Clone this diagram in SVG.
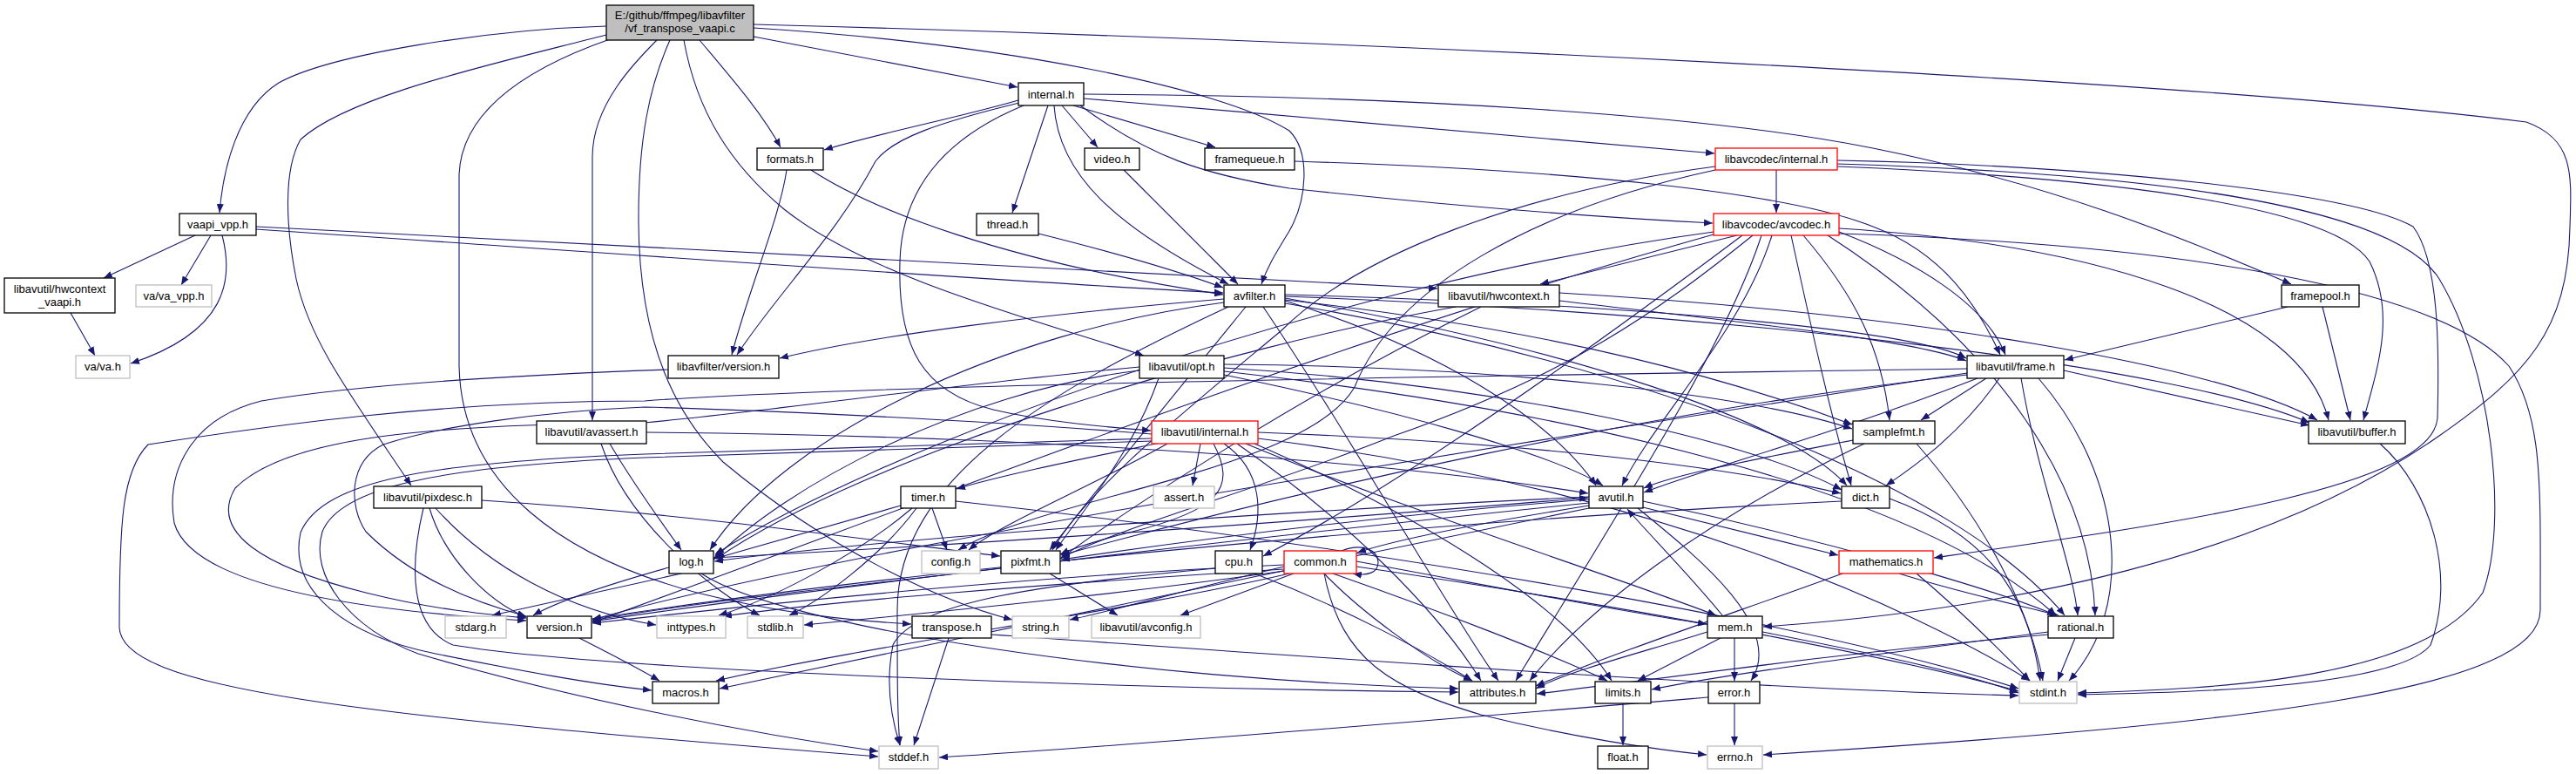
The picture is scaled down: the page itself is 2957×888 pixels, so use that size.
<svg xmlns="http://www.w3.org/2000/svg" width="2957" height="888" viewBox="0 0 2957 888">
<style>
.e{fill:none;stroke:#191970;stroke-width:1.1;marker-end:url(#a)}
.b rect{fill:#fff;stroke:#000;stroke-width:1.3}
.g rect{fill:#fff;stroke:#bfbfbf;stroke-width:1.3}
.r rect{fill:#fff;stroke:#ff0000;stroke-width:1.3}
.m rect{fill:#bfbfbf;stroke:#000;stroke-width:1.3}
text{font-family:"Liberation Sans",Arial,sans-serif;font-size:13px;text-anchor:middle;fill:#000}
</style>
<defs>
<marker id="a" markerWidth="10" markerHeight="8" refX="10" refY="4" orient="auto" markerUnits="userSpaceOnUse">
<path d="M0,0 L10,4 L0,8 z" fill="#191970"/>
</marker>
</defs>
<rect width="2957" height="888" fill="#fff"/>
<g id="edges">
<path class="e" d="M696,30 C560,34 380,62 320,95 C272,125 256,195 252,244"/>
<path class="e" d="M696,40 C560,75 400,110 345,160 C325,195 328,260 340,320 C355,390 400,450 472,557"/>
<path class="e" d="M700,45 C600,80 530,130 527,200 L527,420 C530,560 650,640 800,680 C900,705 980,712 1046,716"/>
<path class="e" d="M754,46 C730,70 680,120 680,180 L680,482"/>
<path class="e" d="M769,46 C745,100 733,160 733,250 C733,400 780,480 830,530 C950,630 1080,690 1162,711"/>
<path class="e" d="M785,46 C800,130 840,190 900,240 C1000,320 1200,370 1313,408"/>
<path class="e" d="M803,46 C840,90 875,130 896,169"/>
<path class="e" d="M865,42 L1168,100"/>
<path class="e" d="M865,32 C1150,50 1400,100 1480,150 C1505,175 1500,230 1480,265 C1465,290 1455,305 1448,326"/>
<path class="e" d="M865,28 C1500,45 2500,90 2900,140 C2955,160 2952,200 2950,260 C2948,380 2900,430 2800,500 C2600,640 2300,700 2024,719"/>
<path class="e" d="M224,270 L119,319"/>
<path class="e" d="M242,270 L208,327"/>
<path class="e" d="M255,270 C268,320 262,380 150,417"/>
<path class="e" d="M294,260 L1650,331"/>
<path class="e" d="M294,263 C700,290 1100,320 1404,336"/>
<path class="e" d="M81,359 L109,408"/>
<path class="e" d="M1169,115 C1100,135 1000,155 946,172"/>
<path class="e" d="M1170,118 C1080,140 1025,158 1005,185 C960,270 890,340 846,407"/>
<path class="e" d="M1175,121 C1080,160 1035,220 1033,300 C1030,400 1060,450 1140,470 C1200,484 1270,490 1321,494"/>
<path class="e" d="M1203,121 L1162,244"/>
<path class="e" d="M1210,121 C1215,200 1280,260 1410,326"/>
<path class="e" d="M1219,121 L1260,169"/>
<path class="e" d="M1232,121 L1395,169"/>
<path class="e" d="M1240,121 C1320,180 1380,200 1480,216 C1700,240 1850,250 1966,256"/>
<path class="e" d="M1244,113 C1500,135 1800,160 1968,176"/>
<path class="e" d="M1244,108 C1600,110 1950,130 2150,170 C2350,210 2500,270 2630,326"/>
<path class="e" d="M903,195 C895,250 860,330 840,407"/>
<path class="e" d="M931,195 C1000,240 1150,300 1404,338"/>
<path class="e" d="M1290,195 L1421,326"/>
<path class="e" d="M1192,268 C1280,290 1350,310 1404,330"/>
<path class="e" d="M1486,185 C1800,195 2050,220 2150,260 C2230,290 2270,350 2296,407"/>
<path class="e" d="M2039,195 L2039,244"/>
<path class="e" d="M1969,191 C1750,220 1560,290 1470,380 C1350,480 1250,560 1208,631"/>
<path class="e" d="M1969,195 C1760,240 1600,330 1555,444 C1500,540 1200,570 1100,631"/>
<path class="e" d="M2109,184 C2400,190 2700,220 2770,260 C2800,300 2800,400 2798,480 C2790,560 2500,600 2220,640"/>
<path class="e" d="M2109,188 C2500,200 2750,240 2800,320 C2860,420 2880,600 2850,680 C2780,780 2550,790 2385,795"/>
<path class="e" d="M2109,191 C2450,205 2680,240 2720,300 C2750,360 2730,420 2713,482"/>
<path class="e" d="M1967,266 C1500,330 1000,520 821,636"/>
<path class="e" d="M1994,270 L1768,326"/>
<path class="e" d="M2012,270 C1900,360 1800,430 1600,500 C1450,560 1300,600 1218,640"/>
<path class="e" d="M2022,270 C1980,400 1850,600 1740,781"/>
<path class="e" d="M2034,270 C2000,380 1900,480 1862,557"/>
<path class="e" d="M2070,270 C2130,340 2160,400 2169,482"/>
<path class="e" d="M2056,270 C2080,380 2100,470 2125,557"/>
<path class="e" d="M2098,270 C2300,400 2400,560 2405,706"/>
<path class="e" d="M2111,262 C2400,280 2640,350 2673,482"/>
<path class="e" d="M2111,266 C2200,300 2280,350 2302,407"/>
<path class="e" d="M2111,268 C2500,280 2800,330 2880,420 C2920,480 2916,560 2916,700 C2916,790 2600,830 2024,866"/>
<path class="e" d="M2000,270 C1800,420 1600,560 1450,638"/>
<path class="e" d="M1967,269 C1500,400 1000,600 680,714"/>
<path class="e" d="M1405,343 C1200,360 1000,385 895,411"/>
<path class="e" d="M1405,347 C1150,380 900,500 815,631"/>
<path class="e" d="M1410,352 C1200,450 1030,550 1030,700 C1030,780 1030,820 1033,855"/>
<path class="e" d="M1450,352 C1550,500 1650,680 1720,781"/>
<path class="e" d="M1475,345 C1650,400 1780,480 1832,557"/>
<path class="e" d="M1475,340 C2000,360 2500,420 2651,485"/>
<path class="e" d="M1475,342 C1800,400 2050,480 2120,557"/>
<path class="e" d="M1475,338 C1900,350 2200,380 2257,411"/>
<path class="e" d="M1475,344 C1800,380 2000,440 2126,487"/>
<path class="e" d="M1430,352 C1350,450 1260,560 1205,631"/>
<path class="e" d="M1475,348 C1900,420 2250,560 2370,706"/>
<path class="e" d="M1790,336 C2200,360 2550,420 2660,482"/>
<path class="e" d="M1790,345 C2000,370 2200,390 2257,414"/>
<path class="e" d="M1671,352 C1400,400 1000,520 822,641"/>
<path class="e" d="M1700,352 C1500,450 1300,580 1217,641"/>
<path class="e" d="M2626,352 L2370,413"/>
<path class="e" d="M2666,352 L2698,482"/>
<path class="e" d="M767,424 C600,430 420,440 300,460 C220,480 190,540 200,600 C220,670 400,700 604,712"/>
<path class="e" d="M1308,425 C1100,450 900,560 819,642"/>
<path class="e" d="M1330,434 C1300,520 1240,590 1212,631"/>
<path class="e" d="M1405,430 C1600,470 1780,520 1840,557"/>
<path class="e" d="M1405,422 C1700,440 2000,500 2114,562"/>
<path class="e" d="M1405,418 C1700,420 2000,450 2126,492"/>
<path class="e" d="M1405,426 C1800,470 2200,560 2360,706"/>
<path class="e" d="M1308,421 C1100,440 900,470 740,485 C500,487 330,500 270,560 C240,610 300,650 420,680 C500,700 560,705 604,709"/>
<path class="e" d="M2258,423 C1800,430 1000,440 740,460 C500,460 300,490 170,510 C140,540 137,600 137,720 C140,790 400,820 1008,868"/>
<path class="e" d="M2369,425 L2651,488"/>
<path class="e" d="M2280,434 L2205,482"/>
<path class="e" d="M2295,434 C2250,500 2190,540 2165,557"/>
<path class="e" d="M2270,434 C2100,500 1950,540 1887,565"/>
<path class="e" d="M2320,434 C2340,550 2380,650 2385,706"/>
<path class="e" d="M2340,434 C2440,550 2450,700 2375,781"/>
<path class="e" d="M2258,430 C1900,470 1500,560 1218,637"/>
<path class="e" d="M2258,428 C1800,500 1000,620 680,711"/>
<path class="e" d="M700,509 C730,560 760,600 782,631"/>
<path class="e" d="M690,509 C720,600 820,680 872,706"/>
<path class="e" d="M742,496 C1200,500 1600,530 1823,566"/>
<path class="e" d="M1378,509 L1369,557"/>
<path class="e" d="M1332,508 C1250,525 1150,545 1098,561"/>
<path class="e" d="M1340,509 C1250,560 1150,600 1112,631"/>
<path class="e" d="M1393,509 C1420,560 1400,585 1300,610 C1260,620 1230,630 1217,636"/>
<path class="e" d="M1405,509 C1450,540 1450,590 1435,631"/>
<path class="e" d="M1444,496 C1800,510 2000,540 2113,566"/>
<path class="e" d="M1430,509 C1600,580 1850,660 1970,706"/>
<path class="e" d="M1420,509 C1550,600 1650,700 1700,781"/>
<path class="e" d="M1440,509 C1650,600 1800,700 1850,781"/>
<path class="e" d="M1444,503 C1900,560 2200,700 2330,781"/>
<path class="e" d="M1322,503 C1100,510 900,515 740,521 C500,530 370,550 345,611 C330,680 400,730 500,750 C600,770 680,785 748,792"/>
<path class="e" d="M1322,506 C1100,515 900,520 740,525 C500,535 390,560 370,610 C355,660 400,720 480,750 C650,800 850,840 1008,862"/>
<path class="e" d="M1322,498 C1100,480 850,470 740,467 C620,472 500,490 440,510 C400,530 400,580 420,610 C470,660 540,690 604,707"/>
<path class="e" d="M553,574 C800,590 1000,620 1148,638"/>
<path class="e" d="M493,583 C510,640 560,690 604,708"/>
<path class="e" d="M500,583 C560,650 650,700 753,717"/>
<path class="e" d="M486,583 C470,650 470,720 520,740 C700,770 1300,790 1674,794"/>
<path class="e" d="M1034,580 L820,641"/>
<path class="e" d="M1047,583 C980,640 880,690 825,706"/>
<path class="e" d="M1052,583 C1010,640 940,690 906,706"/>
<path class="e" d="M1070,583 L1087,631"/>
<path class="e" d="M1097,575 C1600,630 2100,720 2317,790"/>
<path class="e" d="M782,658 L565,706"/>
<path class="e" d="M768,651 C700,670 640,690 612,706"/>
<path class="e" d="M805,658 C900,720 1300,780 1674,790"/>
<path class="e" d="M819,640 C1200,620 1600,590 1823,571"/>
<path class="e" d="M1824,580 C1700,600 1600,620 1558,634"/>
<path class="e" d="M1880,583 C1950,640 2050,720 2010,781"/>
<path class="e" d="M1886,575 C2100,620 2300,680 2360,706"/>
<path class="e" d="M1886,582 L2110,637"/>
<path class="e" d="M1824,570 C1400,590 1000,620 820,644"/>
<path class="e" d="M1824,573 C1600,590 1400,615 1218,642"/>
<path class="e" d="M1824,577 C1400,620 900,680 680,713"/>
<path class="e" d="M1824,583 C1500,650 1100,730 826,790"/>
<path class="e" d="M1205,658 L1283,706"/>
<path class="e" d="M1149,652 C1000,670 800,690 680,712"/>
<path class="e" d="M1395,652 C1200,670 1050,690 1025,740 C1015,790 1025,830 1033,855"/>
<path class="e" d="M1440,658 C1550,700 1640,750 1690,781"/>
<path class="e" d="M1485,658 L1355,706"/>
<path class="e" d="M1474,650 C1350,680 1280,700 1228,711"/>
<path class="e" d="M1474,655 C1300,680 1100,700 923,717"/>
<path class="e" d="M1474,653 C1200,670 950,690 830,707"/>
<path class="e" d="M1474,648 C1200,660 900,690 680,715"/>
<path class="e" d="M1480,658 C1300,700 1000,740 822,781"/>
<path class="e" d="M1520,658 C1560,700 1640,760 1690,781"/>
<path class="e" d="M1530,658 C1650,700 1780,750 1845,781"/>
<path class="e" d="M1520,658 C1540,760 1600,790 1700,820 C1800,845 1900,860 1959,866"/>
<path class="e" d="M1557,650 C1900,700 2200,760 2317,793"/>
<path class="e" d="M1557,644 C1700,670 1850,700 1959,716"/>
<path class="e" d="M1540,632 C1565,622 1582,632 1582,645 C1582,657 1570,661 1553,658"/>
<path class="e" d="M2115,658 C2000,700 1850,750 1763,787"/>
<path class="e" d="M2180,658 C2250,680 2320,695 2363,706"/>
<path class="e" d="M2200,658 C2250,700 2300,750 2330,781"/>
<path class="e" d="M2169,572 C2300,620 2330,700 2342,781"/>
<path class="e" d="M2114,575 C1600,600 1000,660 680,710"/>
<path class="e" d="M2127,505 C2000,530 1920,545 1887,560"/>
<path class="e" d="M2140,509 C1950,600 1820,700 1756,781"/>
<path class="e" d="M2200,509 C2280,600 2330,700 2345,781"/>
<path class="e" d="M1978,707 C1940,660 1890,610 1868,584"/>
<path class="e" d="M1960,725 C1880,750 1800,770 1763,790"/>
<path class="e" d="M1975,732 L1880,781"/>
<path class="e" d="M1991,732 L1991,781"/>
<path class="e" d="M2023,725 C2150,750 2250,770 2317,795"/>
<path class="e" d="M2382,732 L2362,781"/>
<path class="e" d="M2351,725 C2200,745 2000,770 1896,791"/>
<path class="e" d="M2351,728 C2100,750 1900,780 1764,796"/>
<path class="e" d="M1991,807 L1991,855"/>
<path class="e" d="M1961,800 C1600,830 1300,855 1078,869"/>
<path class="e" d="M1863,807 L1863,855"/>
<path class="e" d="M1089,732 L1049,855"/>
<path class="e" d="M1138,728 C1600,760 2000,790 2317,798"/>
<path class="e" d="M665,732 C700,750 730,765 757,781"/>
<path class="e" d="M2732,509 C2790,560 2820,660 2790,740 C2750,790 2500,795 2385,797"/>
</g>
<g id="n-main" class="m"><rect x="696" y="6" width="169" height="40"/><text x="780.5" y="21.5">E:/github/ffmpeg/libavfilter</text><text x="780.5" y="36.5">/vf_transpose_vaapi.c</text></g>
<g id="n-vaapi_vpp" class="b"><rect x="206" y="245" width="88" height="25"/><text x="250" y="262">vaapi_vpp.h</text></g>
<g id="n-hwcontext_vaapi" class="b"><rect x="5" y="319" width="127" height="40"/><text x="68.5" y="335.5">libavutil/hwcontext</text><text x="68.5" y="350.5">_vaapi.h</text></g>
<g id="n-va_vpp" class="g"><rect x="156" y="327" width="87" height="25"/><text x="199.5" y="344">va/va_vpp.h</text></g>
<g id="n-va" class="g"><rect x="87" y="408" width="62" height="26"/><text x="118" y="425">va/va.h</text></g>
<g id="n-internal" class="b"><rect x="1169" y="95" width="75" height="26"/><text x="1206.5" y="112.5">internal.h</text></g>
<g id="n-formats" class="b"><rect x="869" y="170" width="76" height="25"/><text x="907" y="187">formats.h</text></g>
<g id="n-video" class="b"><rect x="1245" y="170" width="63" height="25"/><text x="1276.5" y="187">video.h</text></g>
<g id="n-framequeue" class="b"><rect x="1383" y="170" width="103" height="25"/><text x="1434.5" y="187">framequeue.h</text></g>
<g id="n-thread" class="b"><rect x="1121" y="245" width="71" height="25"/><text x="1156.5" y="262">thread.h</text></g>
<g id="n-lavc_internal" class="r"><rect x="1969" y="170" width="140" height="25"/><text x="2039" y="187">libavcodec/internal.h</text></g>
<g id="n-avcodec" class="r"><rect x="1967" y="245" width="144" height="25"/><text x="2039" y="262">libavcodec/avcodec.h</text></g>
<g id="n-avfilter" class="b"><rect x="1405" y="327" width="70" height="25"/><text x="1440" y="344">avfilter.h</text></g>
<g id="n-hwcontext" class="b"><rect x="1651" y="327" width="139" height="25"/><text x="1720.5" y="344">libavutil/hwcontext.h</text></g>
<g id="n-framepool" class="b"><rect x="2619" y="327" width="89" height="25"/><text x="2663.5" y="344">framepool.h</text></g>
<g id="n-lavfi_version" class="b"><rect x="767" y="408" width="127" height="26"/><text x="830.5" y="425">libavfilter/version.h</text></g>
<g id="n-opt" class="b"><rect x="1308" y="408" width="97" height="26"/><text x="1356.5" y="425">libavutil/opt.h</text></g>
<g id="n-frame" class="b"><rect x="2258" y="408" width="111" height="26"/><text x="2313.5" y="425">libavutil/frame.h</text></g>
<g id="n-avassert" class="b"><rect x="616" y="483" width="126" height="26"/><text x="679" y="500">libavutil/avassert.h</text></g>
<g id="n-lavu_internal" class="r"><rect x="1322" y="483" width="122" height="26"/><text x="1383" y="500">libavutil/internal.h</text></g>
<g id="n-samplefmt" class="b"><rect x="2127" y="483" width="94" height="26"/><text x="2174" y="500">samplefmt.h</text></g>
<g id="n-buffer" class="b"><rect x="2650" y="483" width="111" height="26"/><text x="2705.5" y="500">libavutil/buffer.h</text></g>
<g id="n-pixdesc" class="b"><rect x="429" y="558" width="124" height="25"/><text x="491" y="575">libavutil/pixdesc.h</text></g>
<g id="n-timer" class="b"><rect x="1034" y="558" width="63" height="25"/><text x="1065.5" y="575">timer.h</text></g>
<g id="n-assert" class="g"><rect x="1324" y="558" width="70" height="25"/><text x="1359" y="575">assert.h</text></g>
<g id="n-avutil" class="b"><rect x="1824" y="558" width="62" height="25"/><text x="1855" y="575">avutil.h</text></g>
<g id="n-dict" class="b"><rect x="2114" y="558" width="55" height="25"/><text x="2141.5" y="575">dict.h</text></g>
<g id="n-log" class="b"><rect x="768" y="632" width="51" height="26"/><text x="793.5" y="649">log.h</text></g>
<g id="n-config" class="g"><rect x="1058" y="632" width="67" height="26"/><text x="1091.5" y="649">config.h</text></g>
<g id="n-pixfmt" class="b"><rect x="1149" y="632" width="68" height="26"/><text x="1183" y="649">pixfmt.h</text></g>
<g id="n-cpu" class="b"><rect x="1395" y="632" width="54" height="26"/><text x="1422" y="649">cpu.h</text></g>
<g id="n-common" class="r"><rect x="1474" y="632" width="83" height="26"/><text x="1515.5" y="649">common.h</text></g>
<g id="n-mathematics" class="r"><rect x="2111" y="632" width="108" height="26"/><text x="2165" y="649">mathematics.h</text></g>
<g id="n-stdarg" class="g"><rect x="511" y="707" width="70" height="25"/><text x="546" y="724">stdarg.h</text></g>
<g id="n-version" class="b"><rect x="605" y="707" width="74" height="25"/><text x="642" y="724">version.h</text></g>
<g id="n-inttypes" class="g"><rect x="754" y="707" width="79" height="25"/><text x="793.5" y="724">inttypes.h</text></g>
<g id="n-stdlib" class="g"><rect x="858" y="707" width="64" height="25"/><text x="890" y="724">stdlib.h</text></g>
<g id="n-transpose" class="b"><rect x="1047" y="707" width="91" height="25"/><text x="1092.5" y="724">transpose.h</text></g>
<g id="n-string" class="g"><rect x="1162" y="707" width="65" height="25"/><text x="1194.5" y="724">string.h</text></g>
<g id="n-avconfig" class="g"><rect x="1253" y="707" width="125" height="25"/><text x="1315.5" y="724">libavutil/avconfig.h</text></g>
<g id="n-mem" class="b"><rect x="1960" y="707" width="63" height="25"/><text x="1991.5" y="724">mem.h</text></g>
<g id="n-rational" class="b"><rect x="2351" y="707" width="75" height="25"/><text x="2388.5" y="724">rational.h</text></g>
<g id="n-macros" class="b"><rect x="749" y="782" width="76" height="25"/><text x="787" y="799">macros.h</text></g>
<g id="n-attributes" class="b"><rect x="1675" y="782" width="88" height="25"/><text x="1719" y="799">attributes.h</text></g>
<g id="n-limits" class="b"><rect x="1831" y="782" width="64" height="25"/><text x="1863" y="799">limits.h</text></g>
<g id="n-error" class="b"><rect x="1961" y="782" width="59" height="25"/><text x="1990.5" y="799">error.h</text></g>
<g id="n-stdint" class="g"><rect x="2318" y="782" width="66" height="25"/><text x="2351" y="799">stdint.h</text></g>
<g id="n-stddef" class="g"><rect x="1009" y="856" width="68" height="26"/><text x="1043" y="873">stddef.h</text></g>
<g id="n-float" class="b"><rect x="1834" y="856" width="58" height="26"/><text x="1863" y="873">float.h</text></g>
<g id="n-errno" class="g"><rect x="1960" y="856" width="63" height="26"/><text x="1991.5" y="873">errno.h</text></g>
</svg>
